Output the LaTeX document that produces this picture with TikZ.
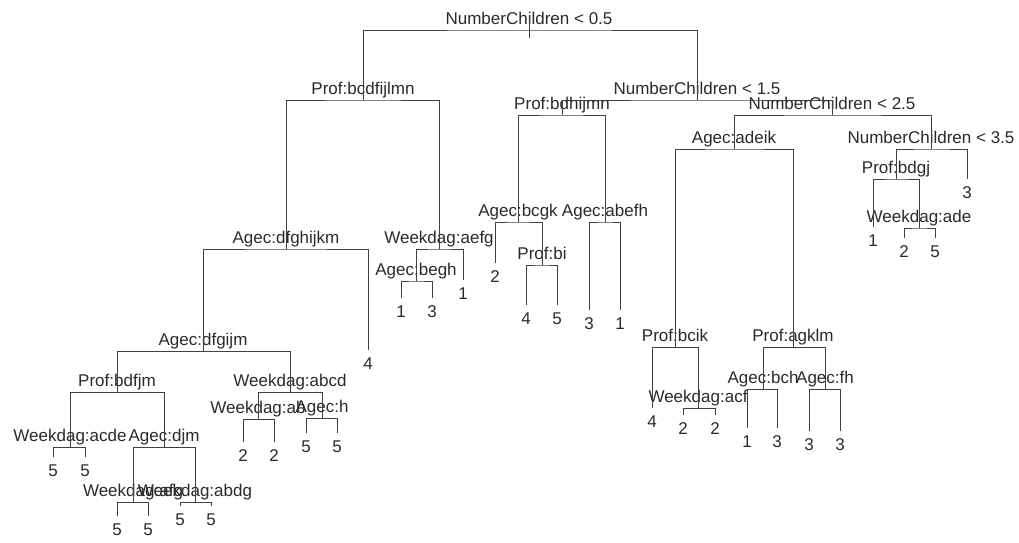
\documentclass[tikz,border=0pt]{standalone}
\usepackage{fontspec}
\setmainfont{Liberation Sans}
\usepackage{tikz}
\usetikzlibrary{positioning}
\definecolor{tr-line}{HTML}{404040}
\definecolor{tr-text}{HTML}{2A2A2A}

\begin{document}
\begin{tikzpicture}[
    x=0.025cm, y=-0.025cm,
    treeline/.style={draw=tr-line, line width=0.7pt},
    splitlbl/.style={anchor=base, inner sep=0pt, text=tr-text, yshift=0.15cm, font=\fontsize{12.1}{14}\selectfont},
    leaflbl/.style={anchor=base, inner sep=0pt, text=tr-text, yshift=-0.49cm, font=\fontsize{12.1}{14}\selectfont}
]
\useasboundingbox (0,0) rectangle (1019,542);

% =====================================================================
% ROOT
% =====================================================================
\coordinate (root) at (529,30);
\coordinate (root-top) at (529,20);
\coordinate (root-bot) at (529,38);
\node[splitlbl] (root-l) at (root) {NumberChildren < 0.5};
\draw[treeline] (root-top) -- (root-bot);

\coordinate (prof1) at (363,100);
\coordinate (nc15) at (697,100);
\node[splitlbl] (prof1-l) at (prof1) {Prof:bcdfijlmn};
\node[splitlbl] (nc15-l) at (nc15) {NumberChildren < 1.5};
\draw[treeline] (prof1) |- (root) -| (nc15);

% =====================================================================
% LEFT BRANCH (Prof:bcdfijlmn)
% =====================================================================
\coordinate (agec1) at (286,249);
\coordinate (wd1) at (439,249);
\node[splitlbl] (agec1-l) at (agec1) {Agec:dfghijkm};
\node[splitlbl] (wd1-l) at (wd1) {Weekdag:aefg};
\draw[treeline] (agec1) |- (prof1) -| (wd1);

\coordinate (agec2) at (203,351);
\coordinate (lf1) at (368,350);
\node[splitlbl] (agec2-l) at (agec2) {Agec:dfgijm};
\node[leaflbl] (lf1-v) at (lf1) {4};
\draw[treeline] (agec2) |- (agec1) -| (lf1);

\coordinate (prof2) at (117,392);
\coordinate (wd2) at (290,392);
\node[splitlbl] (prof2-l) at (prof2) {Prof:bdfjm};
\node[splitlbl] (wd2-l) at (wd2) {Weekdag:abcd};
\draw[treeline] (prof2) |- (agec2) -| (wd2);

\coordinate (wd3) at (70,447);
\coordinate (agec3) at (164,447);
\node[splitlbl] (wd3-l) at (wd3) {Weekdag:acde};
\node[splitlbl] (agec3-l) at (agec3) {Agec:djm};
\draw[treeline] (wd3) |- (prof2) -| (agec3);

\coordinate (lf2) at (53,457);
\coordinate (lf3) at (85,457);
\node[leaflbl] (lf2-v) at (lf2) {5};
\node[leaflbl] (lf3-v) at (lf3) {5};
\draw[treeline] (lf2) |- (wd3) -| (lf3);

\coordinate (wd4) at (133,502);
\coordinate (wd5) at (195,502);
\node[splitlbl] (wd4-l) at (wd4) {Weekdag:afg};
\node[splitlbl] (wd5-l) at (wd5) {Weekdag:abdg};
\draw[treeline] (wd4) |- (agec3) -| (wd5);

\coordinate (lf4) at (117,516);
\coordinate (lf5) at (148,516);
\node[leaflbl] (lf4-v) at (lf4) {5};
\node[leaflbl] (lf5-v) at (lf5) {5};
\draw[treeline] (lf4) |- (wd4) -| (lf5);

\coordinate (lf6) at (180,506);
\coordinate (lf7) at (211,506);
\node[leaflbl] (lf6-v) at (lf6) {5};
\node[leaflbl] (lf7-v) at (lf7) {5};
\draw[treeline] (lf6) |- (wd5) -| (lf7);

\coordinate (wd6) at (258,419);
\coordinate (agec4) at (322,418);
\node[splitlbl] (wd6-l) at (wd6) {Weekdag:ab};
\node[splitlbl] (agec4-l) at (agec4) {Agec:h};
\draw[treeline] (wd6) |- (wd2) -| (agec4);

\coordinate (lf8) at (243,442);
\coordinate (lf9) at (274,442);
\node[leaflbl] (lf8-v) at (lf8) {2};
\node[leaflbl] (lf9-v) at (lf9) {2};
\draw[treeline] (lf8) |- (wd6) -| (lf9);

\coordinate (lf10) at (306,433);
\coordinate (lf11) at (337,433);
\node[leaflbl] (lf10-v) at (lf10) {5};
\node[leaflbl] (lf11-v) at (lf11) {5};
\draw[treeline] (lf10) |- (agec4) -| (lf11);

\coordinate (agec5) at (416,281);
\coordinate (lf12) at (463,280);
\node[splitlbl] (agec5-l) at (agec5) {Agec:begh};
\node[leaflbl] (lf12-v) at (lf12) {1};
\draw[treeline] (agec5) |- (wd1) -| (lf12);

\coordinate (lf13) at (401,298);
\coordinate (lf14) at (432,298);
\node[leaflbl] (lf13-v) at (lf13) {1};
\node[leaflbl] (lf14-v) at (lf14) {3};
\draw[treeline] (lf13) |- (agec5) -| (lf14);

% =====================================================================
% RIGHT BRANCH (NumberChildren < 1.5)
% =====================================================================
\coordinate (prof3) at (562,115);
\coordinate (nc25) at (832,115);
\node[splitlbl] (prof3-l) at (prof3) {Prof:bdhijmn};
\node[splitlbl] (nc25-l) at (nc25) {NumberChildren < 2.5};
\draw[treeline] (prof3) |- (nc15) -| (nc25);

\coordinate (agec6) at (518,222);
\coordinate (agec7) at (605,222);
\node[splitlbl] (agec6-l) at (agec6) {Agec:bcgk};
\node[splitlbl] (agec7-l) at (agec7) {Agec:abefh};
\draw[treeline] (agec6) |- (prof3) -| (agec7);

\coordinate (lf15) at (495,263);
\coordinate (prof4) at (542,265);
\node[leaflbl] (lf15-v) at (lf15) {2};
\node[splitlbl] (prof4-l) at (prof4) {Prof:bi};
\draw[treeline] (lf15) |- (agec6) -| (prof4);

\coordinate (lf16) at (526,305);
\coordinate (lf17) at (557,305);
\node[leaflbl] (lf16-v) at (lf16) {4};
\node[leaflbl] (lf17-v) at (lf17) {5};
\draw[treeline] (lf16) |- (prof4) -| (lf17);

\coordinate (lf18) at (589,310);
\coordinate (lf19) at (620,310);
\node[leaflbl] (lf18-v) at (lf18) {3};
\node[leaflbl] (lf19-v) at (lf19) {1};
\draw[treeline] (lf18) |- (agec7) -| (lf19);

% NumberChildren < 2.5
\coordinate (agec8) at (734,149);
\coordinate (nc35) at (931,149);
\node[splitlbl] (agec8-l) at (agec8) {Agec:adeik};
\node[splitlbl] (nc35-l) at (nc35) {NumberChildren < 3.5};
\draw[treeline] (agec8) |- (nc25) -| (nc35);

\coordinate (prof5) at (675,347);
\coordinate (prof6) at (793,347);
\node[splitlbl] (prof5-l) at (prof5) {Prof:bcik};
\node[splitlbl] (prof6-l) at (prof6) {Prof:agklm};
\draw[treeline] (prof5) |- (agec8) -| (prof6);

\coordinate (lf20) at (652,408);
\coordinate (wd7) at (698,408);
\node[leaflbl] (lf20-v) at (lf20) {4};
\node[splitlbl] (wd7-l) at (wd7) {Weekdag:acf};
\draw[treeline] (lf20) |- (prof5) -| (wd7);

\coordinate (lf21) at (683,415);
\coordinate (lf22) at (715,415);
\node[leaflbl] (lf21-v) at (lf21) {2};
\node[leaflbl] (lf22-v) at (lf22) {2};
\draw[treeline] (lf21) |- (wd7) -| (lf22);

\coordinate (agec9) at (763,389);
\coordinate (agec10) at (825,389);
\node[splitlbl] (agec9-l) at (agec9) {Agec:bch};
\node[splitlbl] (agec10-l) at (agec10) {Agec:fh};
\draw[treeline] (agec9) |- (prof6) -| (agec10);

\coordinate (lf23) at (747,428);
\coordinate (lf24) at (777,428);
\node[leaflbl] (lf23-v) at (lf23) {1};
\node[leaflbl] (lf24-v) at (lf24) {3};
\draw[treeline] (lf23) |- (agec9) -| (lf24);

\coordinate (lf25) at (809,431);
\coordinate (lf26) at (840,431);
\node[leaflbl] (lf25-v) at (lf25) {3};
\node[leaflbl] (lf26-v) at (lf26) {3};
\draw[treeline] (lf25) |- (agec10) -| (lf26);

% NumberChildren < 3.5
\coordinate (prof7) at (896,179);
\coordinate (lf27) at (967,179);
\node[splitlbl] (prof7-l) at (prof7) {Prof:bdgj};
\node[leaflbl] (lf27-v) at (lf27) {3};
\draw[treeline] (prof7) |- (nc35) -| (lf27);

\coordinate (lf28) at (873,227);
\coordinate (wd8) at (919,228);
\node[leaflbl] (lf28-v) at (lf28) {1};
\node[splitlbl] (wd8-l) at (wd8) {Weekdag:ade};
\draw[treeline] (lf28) |- (prof7) -| (wd8);

\coordinate (lf29) at (904,238);
\coordinate (lf30) at (935,238);
\node[leaflbl] (lf29-v) at (lf29) {2};
\node[leaflbl] (lf30-v) at (lf30) {5};
\draw[treeline] (lf29) |- (wd8) -| (lf30);

\end{tikzpicture}
\end{document}
